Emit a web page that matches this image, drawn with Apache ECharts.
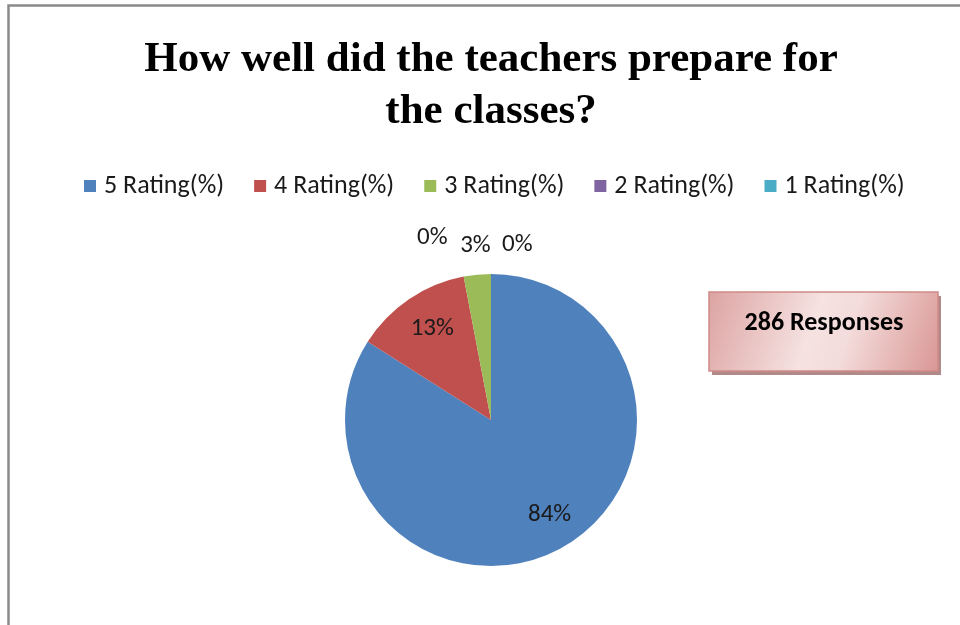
<!DOCTYPE html>
<html>
<head>
<meta charset="utf-8">
<script src="https://cdn.jsdelivr.net/npm/echarts@6/dist/echarts.min.js"></script>
<style>
html,body{margin:0;padding:0;background:#fff;}
#chart{width:960px;height:625px;}
</style>
</head>
<body>
<div id="chart"></div>
<script>
var titleText = 'How well did the teachers prepare for\nthe classes?';
var categories = ['5 Rating(%)', '4 Rating(%)', '3 Rating(%)', '2 Rating(%)', '1 Rating(%)'];
var values = [84, 13, 3, 0, 0];
var colors = ['#4f81bd', '#c0504d', '#9bbb59', '#8064a2', '#4bacc6'];
var responsesText = '286 Responses';

var labelFont = 'Carlito, Lato, "Open Sans", sans-serif';

// label placement styles per slice (Excel best-fit look)
var labelStyles = [
  { position: 'inside', offset: [22, 28] },
  { position: 'inside', offset: [-16, -28] },
  { position: 'outside', offset: [14, -23] },
  { position: 'outside', offset: [11, -23] },
  { position: 'outside', offset: [-74, -30] }
];

var data = categories.map(function (c, i) {
  return {
    name: c,
    value: values[i],
    itemStyle: { color: colors[i] },
    label: labelStyles[i],
    labelLine: { show: false }
  };
});

var chart = echarts.init(document.getElementById('chart'), null, { renderer: 'canvas' });
chart.setOption({
  animation: false,
  backgroundColor: '#ffffff',
  title: {
    text: titleText,
    left: 491,
    textAlign: 'center',
    top: 34,
    padding: 0,
    textStyle: {
      fontFamily: '"Liberation Serif", "Times New Roman", serif',
      fontWeight: 'bold',
      fontSize: 43,
      lineHeight: 52,
      color: '#000'
    }
  },
  legend: {
    top: 173,
    left: 84,
    padding: 0,
    itemWidth: 12,
    itemHeight: 12,
    itemGap: 30,
    icon: 'rect',
    textStyle: { fontFamily: labelFont, fontSize: 26, color: '#1a1a1a', padding: [0, 0, 0, 3] },
    data: categories
  },
  series: [{
    type: 'pie',
    center: [491, 420],
    radius: 146,
    startAngle: 90,
    clockwise: true,
    avoidLabelOverlap: false,
    stillShowZeroSum: true,
    minShowLabelAngle: 0,
    itemStyle: { borderWidth: 0 },
    label: {
      show: true,
      formatter: function (p) { return Math.round(p.percent) + '%'; },
      fontFamily: labelFont,
      fontSize: 25,
      color: '#1a1a1a',
      distanceToLabelLine: 0
    },
    labelLine: { show: false, length: 6, length2: 0 },
    emphasis: { disabled: true },
    data: data
  }],
  graphic: [
    {
      type: 'rect',
      silent: true,
      shape: { x: 8.5, y: 5.5, width: 1000, height: 700 },
      style: { fill: 'none', stroke: '#8a8a8a', lineWidth: 2.5 }
    },
    {
      type: 'rect',
      silent: true,
      shape: { x: 712, y: 296, width: 229, height: 79 },
      style: { fill: '#b08a89' }
    },
    {
      type: 'rect',
      silent: true,
      shape: { x: 709, y: 292, width: 229, height: 79 },
      style: {
        fill: new echarts.graphic.LinearGradient(0, 0, 1, 1, [
          { offset: 0, color: '#dca3a2' },
          { offset: 0.45, color: '#f5e2e1' },
          { offset: 0.6, color: '#f3dcdb' },
          { offset: 1, color: '#d99694' }
        ]),
        stroke: '#d08a88',
        lineWidth: 1.5
      }
    },
    {
      type: 'text',
      silent: true,
      x: 824,
      y: 323,
      style: {
        text: responsesText,
        fontFamily: labelFont,
        fontWeight: 'bold',
        fontSize: 26,
        fill: '#000',
        align: 'center',
        verticalAlign: 'middle'
      }
    }
  ]
});
</script>
</body>
</html>
